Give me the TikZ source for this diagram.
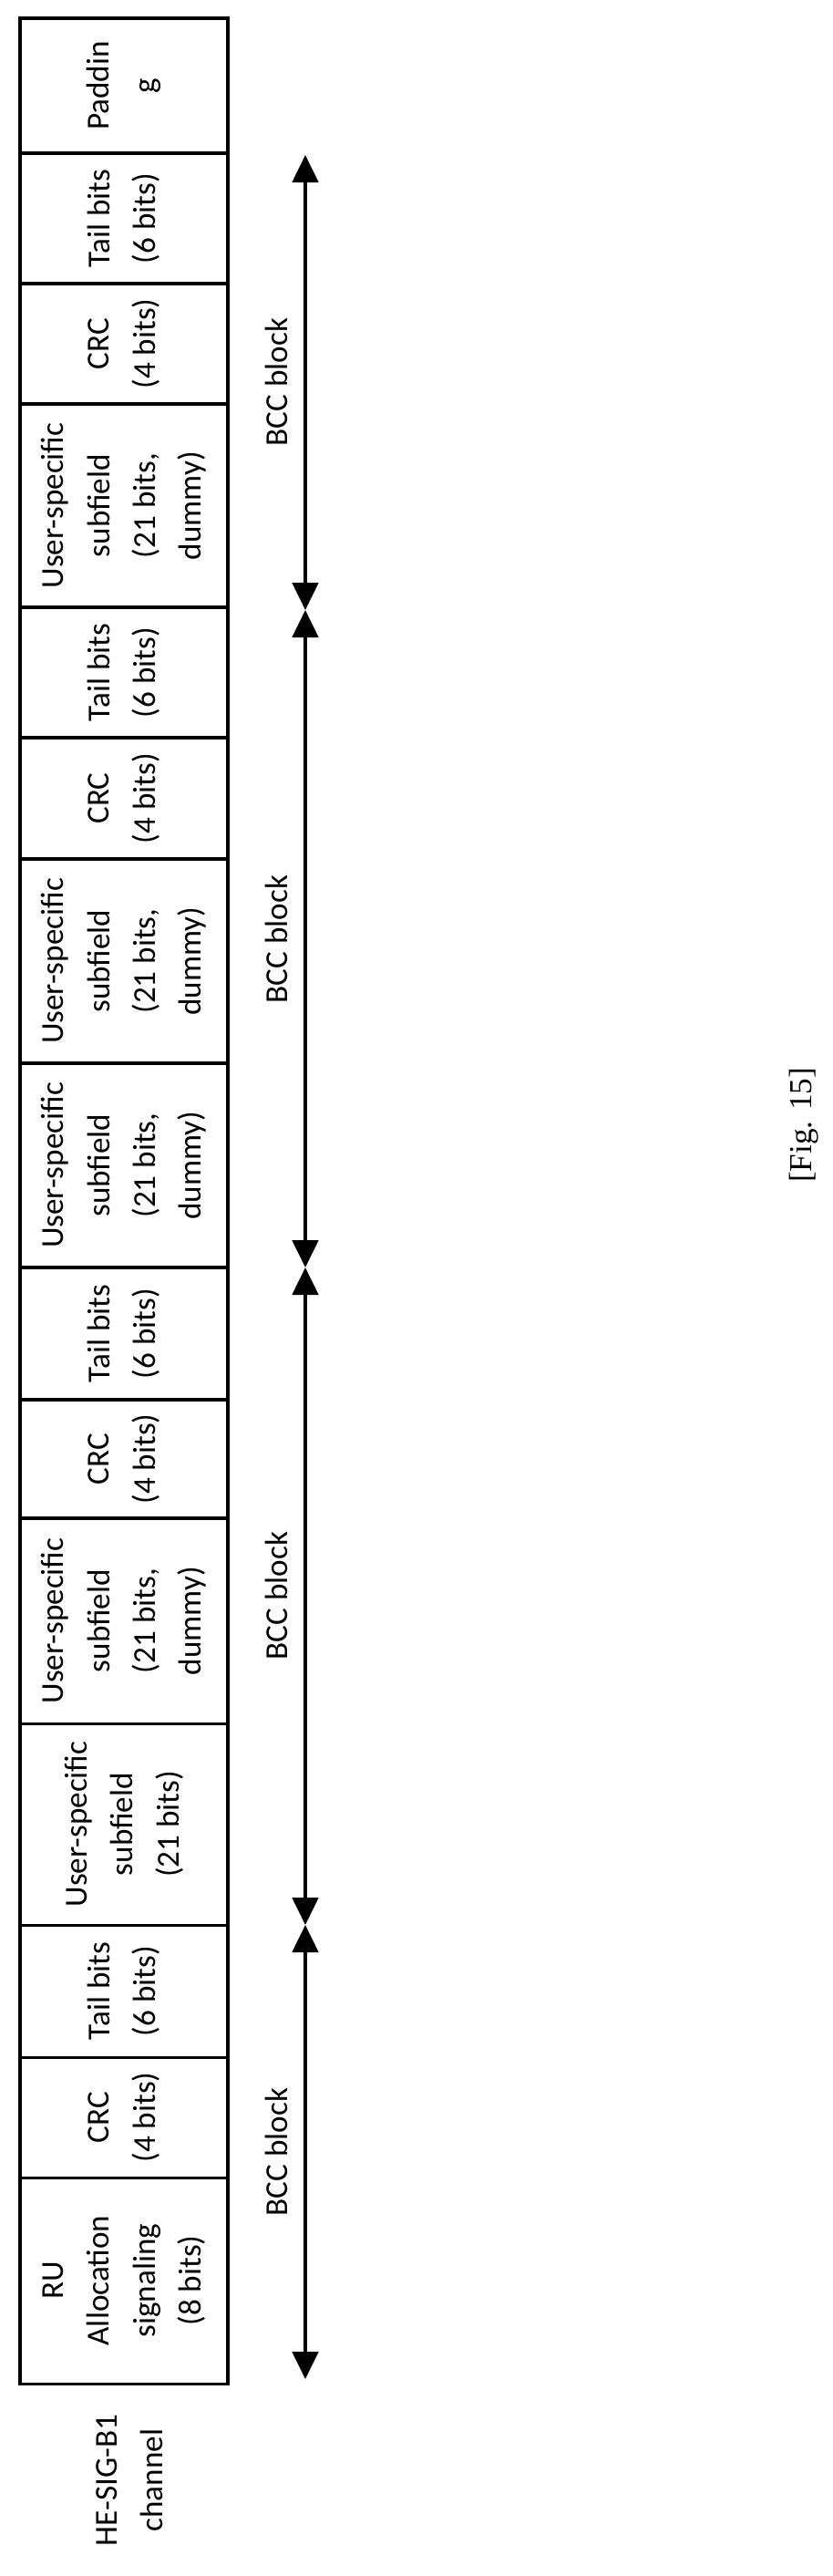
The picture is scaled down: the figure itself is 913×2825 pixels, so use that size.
\documentclass[tikz,border=0pt]{standalone}
\usepackage{fontspec}
\setmainfont{Carlito}
\newfontfamily\figfont{Liberation Serif}
\usetikzlibrary{arrows.meta,positioning}

\begin{document}
\begin{tikzpicture}[x=0.03cm, y=-0.03cm,
    every node/.style={font=\fontsize{30}{43}\selectfont},
    cell/.style={draw, line width=2.6pt, rotate=90, align=center, inner sep=0pt, minimum height=228*0.03cm},
    span/.style={{Triangle[length=0.9cm,width=0.85cm]}-{Triangle[length=0.9cm,width=0.85cm]}, line width=3.4pt},
    blocklabel/.style={rotate=90}]
    \useasboundingbox (0,0) rectangle (913,2825);

    % fields of the channel, top to bottom
    \foreach \name/\top/\bot/\lbl in {
        pad/20/168/{Paddin\\g},
        tailD/168/311/{Tail bits\\(6 bits)},
        crcD/311/443/{CRC\\(4 bits)},
        usrDa/443/666/{User-specific\\subfield\\(21 bits,\\dummy)},
        tailC/666/809/{Tail bits\\(6 bits)},
        crcC/809/942/{CRC\\(4 bits)},
        usrCa/942/1166/{User-specific\\subfield\\(21 bits,\\dummy)},
        usrCb/1166/1390/{User-specific\\subfield\\(21 bits,\\dummy)},
        tailB/1390/1535/{Tail bits\\(6 bits)},
        crcB/1535/1665/{CRC\\(4 bits)},
        usrBa/1665/1890/{User-specific\\subfield\\(21 bits,\\dummy)},
        usrBb/1890/2111/{User-specific\\subfield\\(21 bits)},
        tailA/2111/2256/{Tail bits\\(6 bits)},
        crcA/2256/2388/{CRC\\(4 bits)},
        ru/2388/2614/{RU\\Allocation\\signaling\\(8 bits)}} {
        \node[cell, minimum width=(\bot-\top)*0.03cm] (\name) at (136,{(\top+\bot)/2}) {\lbl};
    }

    \node[rotate=90, align=center] (chan) at (142,2720) {HE-SIG-B1\\channel};

    % BCC blocks
    \coordinate (b0) at (335,170);
    \coordinate (b1) at (335,669);
    \coordinate (b2) at (335,1390);
    \coordinate (b3) at (335,2111);
    \coordinate (b4) at (335,2609);
    \draw[span] (b0) -- (b1);
    \draw[span] (b1) -- (b2);
    \draw[span] (b2) -- (b3);
    \draw[span] (b3) -- (b4);

    \node[blocklabel] (bccD) at (303,419) {BCC block};
    \node[blocklabel] (bccC) at (303,1030) {BCC block};
    \node[blocklabel] (bccB) at (303,1750) {BCC block};
    \node[blocklabel] (bccA) at (303,2360) {BCC block};

    \node[rotate=90, font=\figfont\fontsize{30}{36}\selectfont] (fig) at (882,1234) {[Fig. 15]};
\end{tikzpicture}
\end{document}
